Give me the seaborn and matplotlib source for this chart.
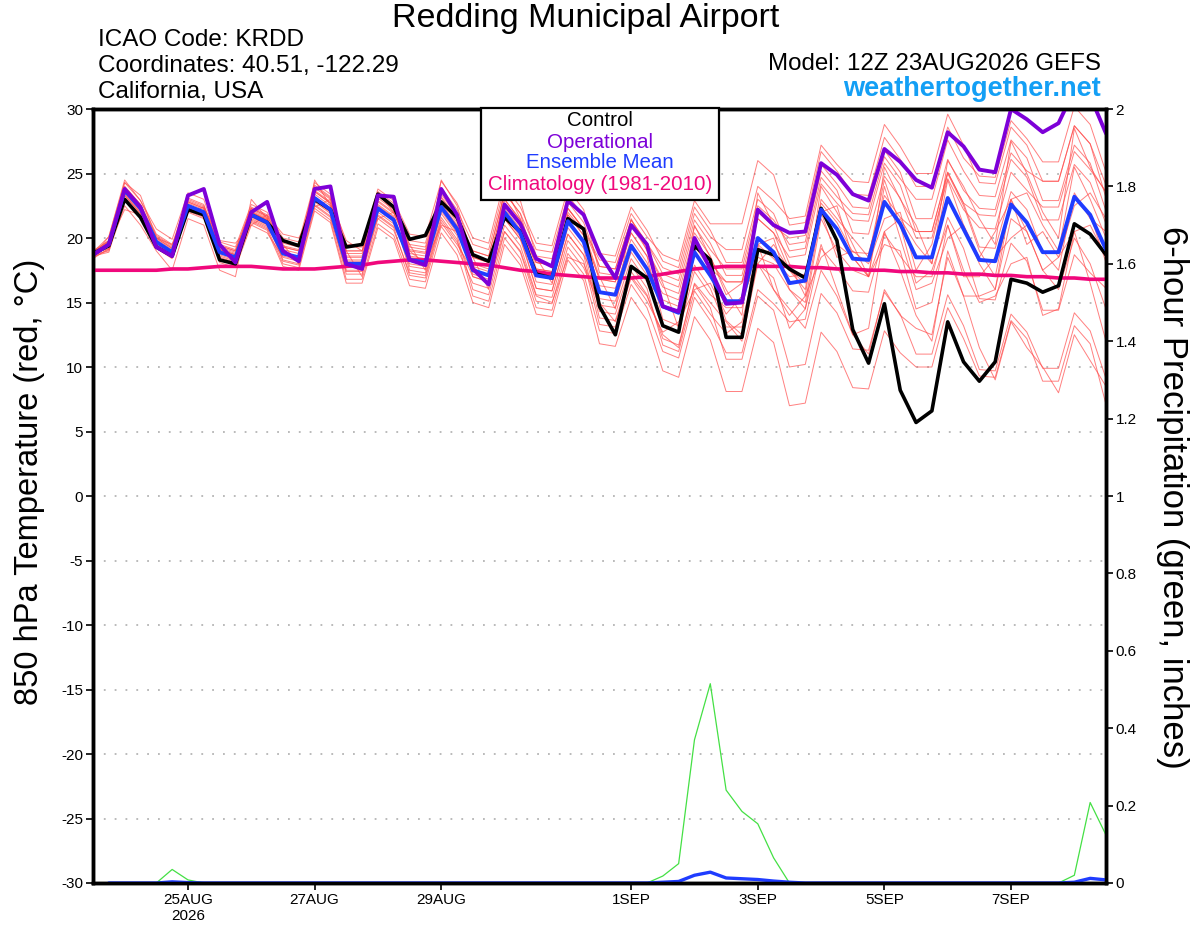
import numpy as np
import pandas as pd
import matplotlib
matplotlib.use("Agg")
import matplotlib.pyplot as plt
import seaborn as sns
from matplotlib.patches import Rectangle

sns.set_theme(style="white")
plt.rcParams['font.family'] = ['Liberation Sans', 'DejaVu Sans']
plt.rcParams['text.color'] = 'black'
plt.rcParams['axes.labelcolor'] = 'black'
plt.rcParams['xtick.color'] = 'black'
plt.rcParams['ytick.color'] = 'black'

# ---------------- data ----------------
run_start = "2026-08-23 12:00"
n_steps = 65

control = [18.8,19.4,23.0,21.6, 19.3,18.6,22.2,21.8, 18.3,18.0,21.8,21.2, 19.8,19.4,23.0,22.2,
           19.3,19.5,23.4,22.4, 19.9,20.2,22.8,21.6, 18.7,18.2,21.6,20.5, 17.2,16.9,21.5,20.7,
           14.7,12.5,17.8,16.9, 13.2,12.7,19.4,18.3, 12.3,12.3,19.1,18.7, 17.6,16.9,22.3,19.8,
           12.9,10.3,14.9,8.2, 5.7,6.6,13.5,10.4, 8.9,10.4,16.8,16.5, 15.8,16.3,21.1,20.3, 18.7]

operational = [18.7,19.5,23.8,22.4, 19.3,18.6,23.3,23.8, 19.5,18.1,22.0,22.8, 19.0,18.2,23.8,24.0,
               18.0,17.6,23.3,23.2, 18.3,17.9,23.8,21.8, 17.6,16.4,22.6,21.1, 18.4,17.8,22.9,21.8,
               18.8,16.9,21.0,19.5, 14.7,14.3,20.0,17.6, 14.9,15.0,22.2,21.0, 20.4,20.5,25.8,24.9,
               23.4,22.9,26.9,25.9, 24.5,23.9,28.2,27.1, 25.3,25.1,30.0,29.2, 28.2,28.9,31.5,31.0, 28.1]

ens_mean = [18.7,19.5,23.7,22.3, 19.7,18.9,22.5,22.0, 18.9,18.5,21.8,21.2, 18.8,18.5,23.1,22.2,
            18.0,18.0,22.3,21.4, 18.3,18.1,22.4,20.7, 17.5,17.1,22.0,20.4, 17.1,16.9,21.3,19.7,
            15.8,15.6,19.4,17.6, 14.7,14.2,18.9,17.1, 15.1,15.1,20.0,18.9, 16.5,16.7,22.2,20.7,
            18.4,18.3,22.8,21.1, 18.5,18.5,23.1,20.7, 18.3,18.2,22.6,21.2, 18.9,18.9,23.2,21.8, 19.1]

climatology = [17.5,17.5,17.5,17.5, 17.5,17.6,17.6,17.7, 17.8,17.8,17.8,17.7, 17.6,17.6,17.6,17.7,
               17.8,17.9,18.1,18.2, 18.3,18.3,18.2,18.1, 18.0,17.9,17.7,17.5, 17.4,17.2,17.1,17.0,
               16.9,16.9,16.9,17.0, 17.2,17.4,17.6,17.7, 17.8,17.8,17.8,17.8, 17.8,17.7,17.7,17.6,
               17.6,17.5,17.5,17.4, 17.4,17.3,17.3,17.2, 17.2,17.1,17.1,17.0, 17.0,16.9,16.9,16.8, 16.8]

m01 = [19.0,19.8,24.0,22.6, 20.2,19.4,23.0,22.5, 19.7,19.3,22.6,22.0, 20.0,19.7,24.3,23.4, 19.5,19.5,23.8,22.9,
       20.3,20.1,24.4,22.7, 20.0,19.6,24.5,22.9, 18.6,18.4,22.8,21.2, 17.8,17.6,21.4,19.6, 17.7,17.2,21.9,20.1,
       19.1,19.1,24.0,22.9, 21.5,21.7,27.2,25.7, 24.4,24.3,28.8,27.1, 25.0,25.0,29.6,27.2, 24.3,24.2,28.6,27.2,
       24.4,24.4,28.7,27.3, 24.1]
m02 = [18.4,19.2,23.4,22.0, 19.2,18.4,22.0,21.5, 18.3,17.9,21.2,20.6, 17.8,17.5,22.1,21.2, 16.5,16.5,20.8,19.9,
       16.3,16.1,20.4,18.7, 15.0,14.6,19.5,17.9, 14.1,13.9,18.3,16.7, 11.8,11.6,15.4,13.6, 9.7,9.2,13.9,12.1,
       8.1,8.1,13.0,11.9, 7.0,7.2,12.7,11.2, 8.4,8.3,12.8,11.1, 10.0,10.0,14.6,12.2, 9.3,9.2,13.6,12.2,
       8.9,8.9,13.2,11.8, 7.1]
m03 = [18.9,19.8,23.9,22.5, 20.0,19.2,22.8,22.3, 19.4,19.0,22.3,21.7, 19.6,19.3,23.9,23.0, 18.5,18.5,22.8,21.9,
       19.3,19.1,23.4,21.7, 19.0,18.6,23.5,21.9, 19.1,18.9,23.3,21.7, 18.8,18.6,22.4,20.6, 18.2,17.7,22.4,20.6,
       18.1,18.1,23.0,21.9, 19.0,19.2,24.7,23.2, 21.9,21.8,26.3,24.6, 23.0,23.0,27.6,25.2, 23.3,23.2,27.6,26.2,
       22.9,22.9,27.2,25.8, 22.1]
m04 = [18.5,19.5,23.7,22.1, 19.7,18.9,22.5,22.0, 19.3,18.9,22.2,21.6, 18.3,18.0,22.6,21.7, 17.2,17.2,21.5,20.6,
       17.3,17.1,21.4,19.7, 17.0,16.6,21.5,19.9, 17.6,17.4,21.8,20.2, 16.8,16.6,20.4,18.6, 13.7,13.2,17.9,16.1,
       13.1,13.1,18.0,16.9, 13.0,14.5,19.5,16.0, 12.5,13.0,20.5,17.5, 14.0,12.0,19.0,15.5, 15.5,16.0,21.5,20.5,
       17.5,16.0,20.0,18.0, 14.5]
m05 = [18.9,20.1,24.5,22.9, 20.7,19.9,23.5,23.0, 19.4,19.0,22.3,21.7, 19.4,19.1,23.7,22.8, 19.0,19.0,23.3,22.4,
       18.8,18.6,22.9,21.2, 17.0,16.6,21.5,19.9, 16.1,15.9,20.3,18.7, 13.8,13.6,17.4,15.6, 12.2,11.7,16.4,14.6,
       10.6,10.6,15.5,14.4, 10.0,10.2,15.7,14.2, 11.4,11.3,15.8,14.1, 11.0,11.0,15.6,13.2, 9.8,9.7,14.1,12.7,
       9.9,9.9,14.2,12.8, 9.1]
m06 = [18.5,19.1,23.3,21.9, 19.4,18.6,22.2,21.7, 19.1,18.7,22.0,21.4, 19.3,19.0,23.6,22.7, 18.8,18.8,23.1,22.2,
       19.8,19.6,23.9,22.2, 19.5,19.1,24.0,22.4, 19.6,19.4,23.8,22.2, 17.3,17.1,20.9,19.1, 16.7,16.2,20.9,19.1,
       17.6,17.6,22.5,21.4, 19.5,19.7,25.2,23.7, 20.4,20.3,24.8,23.1, 20.0,20.0,24.6,22.2, 20.8,20.7,25.1,23.7,
       22.4,22.4,26.7,25.3, 23.6]
m07 = [18.8,19.3,23.5,22.2, 19.5,18.7,22.3,21.8, 18.1,17.7,21.0,20.4, 18.5,18.2,22.8,21.9, 18.2,18.2,22.5,21.6,
       17.8,17.6,21.9,20.2, 16.0,15.6,20.5,18.9, 15.1,14.9,19.3,17.7, 14.8,14.6,18.4,16.6, 15.2,14.7,19.4,17.6,
       16.6,16.6,21.5,20.4, 18.5,18.7,24.2,22.7, 21.4,21.3,25.8,24.1, 20.5,20.5,25.1,22.7, 19.3,19.2,23.6,22.2,
       18.9,18.9,23.2,21.8, 18.1]
m08 = [18.7,19.7,23.9,22.5, 20.1,19.3,22.9,22.4, 19.1,18.7,22.0,21.4, 19.7,19.4,24.0,23.1, 19.3,19.3,23.6,22.7,
       19.1,18.9,23.2,21.5, 17.8,17.4,22.3,20.7, 16.6,16.4,20.8,19.2, 14.3,14.1,17.9,16.1, 11.7,11.2,15.9,14.1,
       12.6,13.5,18.5,18.0, 16.0,14.5,21.5,19.0, 17.5,17.0,19.5,19.0, 14.5,15.0,21.0,17.0, 17.0,18.5,20.0,21.0,
       19.0,17.5,23.5,21.5, 20.5]
m09 = [18.6,18.9,23.1,21.7, 19.4,18.6,22.2,21.7, 18.6,18.2,21.5,20.9, 19.1,18.8,23.4,22.5, 17.7,17.7,22.0,21.1,
       18.6,18.4,22.7,21.0, 18.5,18.1,23.0,21.4, 18.1,17.9,22.3,20.7, 18.3,18.1,21.9,20.1, 18.7,18.2,22.9,21.1,
       21.1,21.1,26.0,24.9, 21.0,21.2,26.7,25.2, 23.4,23.3,27.8,26.1, 24.0,24.0,28.6,26.2, 24.8,24.7,29.1,27.7,
       25.9,25.9,30.2,28.8, 25.1]
m10 = [18.9,19.7,23.9,22.5, 19.9,19.1,22.7,22.2, 18.5,18.1,21.4,20.8, 18.0,17.7,22.3,21.4, 16.8,16.8,21.1,20.2,
       16.8,16.6,20.9,19.2, 16.5,16.1,21.0,19.4, 15.6,15.4,19.8,18.2, 13.3,13.1,16.9,15.1, 12.7,13.5,16.0,16.5,
       14.1,15.5,18.0,19.5, 17.5,16.0,23.0,21.5, 20.0,18.5,24.5,21.0, 16.5,17.5,21.0,17.5, 15.0,15.5,18.0,18.5,
       14.0,14.5,20.5,16.5, 12.0]
m11 = [18.6,20.1,24.3,22.9, 20.3,19.5,23.1,22.6, 19.1,18.7,22.0,21.4, 18.8,18.5,23.1,22.2, 18.0,18.0,22.3,21.4,
       18.0,17.8,22.1,20.4, 18.0,17.6,22.5,20.9, 18.1,17.9,22.3,20.7, 15.8,15.6,19.4,17.6, 15.7,15.2,19.9,18.1,
       16.6,16.6,21.5,20.4, 17.5,16.5,22.0,22.5, 18.5,17.0,24.0,20.0, 16.0,16.5,20.0,21.0, 18.0,16.0,23.0,19.5,
       20.5,18.5,22.5,23.5, 21.5]
m12 = [19.0,19.1,23.3,21.9, 19.3,18.5,22.1,21.6, 18.7,18.3,21.6,21.0, 18.6,18.3,22.9,22.0, 18.6,18.6,22.9,22.0,
       19.5,19.3,23.6,21.9, 18.5,18.1,23.0,21.4, 17.1,16.9,21.3,19.7, 15.3,15.1,18.9,17.1, 13.2,12.7,17.4,15.6,
       14.6,14.6,19.5,18.4, 17.0,17.2,22.7,21.2, 18.9,18.8,23.3,21.6, 20.5,20.5,25.1,22.7, 21.8,21.7,26.1,24.7,
       21.4,21.4,25.7,24.3, 21.1]
m13 = [18.5,19.6,24.3,23.3, 20.0,19.2,22.8,22.3, 19.5,19.1,22.4,21.8, 19.8,19.5,24.1,23.2, 18.3,18.3,22.6,21.7,
       17.5,17.3,21.6,19.9, 15.5,15.1,20.0,18.4, 14.6,14.4,18.8,17.2, 12.8,12.6,16.4,14.6, 11.2,10.7,15.4,13.6,
       11.1,11.1,16.0,14.9, 13.5,13.7,19.2,17.7, 15.9,15.8,20.3,18.6, 17.0,17.0,21.6,19.2, 15.3,15.2,19.6,18.2,
       14.4,14.4,18.7,17.3, 16.1]
m14 = [18.8,19.4,23.6,22.2, 19.6,18.8,22.4,21.9, 18.4,18.0,21.3,20.7, 19.3,19.0,23.6,22.7, 19.0,19.0,23.3,22.4,
       19.0,18.8,23.1,21.4, 19.0,18.6,23.5,21.9, 17.6,17.4,21.8,20.2, 16.8,16.6,20.4,18.6, 16.2,15.7,20.4,18.6,
       15.6,16.5,19.5,20.0, 16.0,15.0,22.0,18.5, 19.0,18.0,21.5,22.0, 17.5,19.5,25.0,22.5, 19.0,17.0,23.0,20.5,
       17.5,18.5,20.5,21.0, 18.5]
m15 = [18.7,19.8,24.0,22.6, 19.7,18.9,22.5,22.0, 18.9,18.5,21.8,21.2, 18.2,17.9,22.5,21.6, 17.5,17.5,21.8,20.9,
       18.5,18.3,22.6,20.9, 17.2,16.8,21.7,20.1, 16.1,15.9,20.3,18.7, 16.3,16.1,19.9,18.1, 14.7,14.2,18.9,17.1,
       13.6,12.5,19.5,16.0, 14.0,15.5,18.5,19.5, 18.5,17.0,20.5,21.5, 19.5,18.0,24.5,21.0, 18.5,20.5,23.0,23.5,
       21.0,19.0,25.5,23.0, 20.0]
m16 = [18.6,19.3,23.5,22.1, 19.5,18.7,22.3,21.8, 19.2,18.8,22.1,21.5, 18.8,18.5,23.1,22.2, 17.4,17.4,21.7,20.8,
       17.1,16.9,21.2,19.5, 17.5,17.1,22.0,20.4, 18.1,17.9,22.3,20.7, 17.8,17.6,21.4,19.6, 17.2,16.7,21.4,19.6,
       17.1,17.1,22.0,20.9, 20.0,20.2,25.7,24.2, 22.4,22.3,26.8,25.1, 21.5,21.5,26.1,23.7, 22.3,22.2,26.6,25.2,
       24.4,24.4,28.7,27.3, 23.1]
m17 = [18.7,19.0,22.5,21.0, 19.0,17.5,21.5,21.0, 17.5,17.0,23.0,21.5, 19.5,18.0,24.5,22.5, 19.0,17.0,23.5,22.0,
       19.5,17.5,24.5,22.5, 18.5,16.0,24.0,21.5, 18.5,16.5,22.0,20.5, 17.0,14.5,21.5,19.0, 16.5,13.0,21.0,18.5,
       16.0,14.0,23.5,21.0, 18.0,15.5,24.0,22.0, 19.5,17.0,25.5,23.0, 21.0,18.0,26.0,24.0, 21.5,19.5,27.5,25.0,
       22.0,20.0,28.5,25.5, 23.5]
m18 = [18.8,19.6,22.2,21.8, 20.0,19.5,22.0,22.4, 19.8,19.6,21.0,21.8, 20.3,20.0,22.4,23.0, 19.8,19.0,21.5,22.0,
       19.0,18.0,21.0,20.5, 17.8,16.5,20.5,19.0, 15.5,15.0,18.5,18.0, 15.0,13.5,17.0,15.5, 12.5,11.5,16.5,15.0,
       13.5,12.0,18.0,16.0, 14.5,13.0,17.5,15.5, 12.5,11.0,16.0,14.0, 13.0,12.5,18.5,15.5, 11.5,9.0,13.5,11.5,
       10.0,8.0,12.5,10.5, 8.5]
members = [m01, m02, m03, m04, m05, m06, m07, m08, m09, m10,
           m11, m12, m13, m14, m15, m16, m17, m18]

nan = float("nan")
precip_max = [nan, 0, 0, 0, 0, 0.035, 0.008, 0, 0, 0,
              0, 0, 0, 0, 0, 0, 0, 0, 0, 0,
              0, 0, 0, 0, 0, 0, 0, 0, 0, 0,
              0, 0, 0, 0, 0, 0, 0.018, 0.05, 0.37, 0.515,
              0.24, 0.185, 0.153, 0.065, 0, 0, 0, 0, 0, 0,
              0, 0, 0, 0, 0, 0, 0, 0, 0, 0,
              0, 0, 0.02, 0.208, 0.124]
precip_mean = [nan, 0, 0, 0, 0, 0.003, 0.001, 0, 0, 0,
               0, 0, 0, 0, 0, 0, 0, 0, 0, 0,
               0, 0, 0, 0, 0, 0, 0, 0, 0, 0,
               0, 0, 0, 0, 0, 0, 0.002, 0.004, 0.02, 0.028,
               0.013, 0.011, 0.009, 0.005, 0.002, 0, 0, 0, 0, 0,
               0, 0, 0, 0, 0, 0, 0, 0, 0, 0,
               0, 0, 0.002, 0.012, 0.008]

tick_dates = ["2026-08-25", "2026-08-27", "2026-08-29", "2026-09-01",
              "2026-09-03", "2026-09-05", "2026-09-07"]
tick_labels = ["25AUG\n2026", "27AUG", "29AUG", "1SEP", "3SEP", "5SEP", "7SEP"]
temp_ticks = [-30, -25, -20, -15, -10, -5, 0, 5, 10, 15, 20, 25, 30]
precip_ticks = [0, 0.2, 0.4, 0.6, 0.8, 1.0, 1.2, 1.4, 1.6, 1.8, 2.0]
precip_tick_labels = ["0", "0.2", "0.4", "0.6", "0.8", "1", "1.2", "1.4", "1.6", "1.8", "2"]

legend_items = ["Control", "Operational", "Ensemble Mean", "Climatology (1981-2010)"]

# ---------------- colours ----------------
C_CTRL = "#000000"
C_OPER = "#7d00d8"
C_MEAN = "#1f3cff"
C_CLIM = "#f0087c"
C_MEMB = "#ff4a4a"
C_PMAX = "#44e044"
C_SITE = "#139ff5"

times = pd.date_range(run_start, periods=n_steps, freq="6h")

W, H = 1200, 927
fig = plt.figure(figsize=(W / 100, H / 100), dpi=100)
fig.patch.set_facecolor("white")
ax = fig.add_axes([93 / W, 1 - 883 / H, (1106 - 93) / W, (883 - 109) / H])
ax.set_facecolor("white")

# ensemble members
rows = []
for k, m in enumerate(members):
    for t, v in zip(times, m):
        rows.append((k, t, v))
df_m = pd.DataFrame(rows, columns=["member", "time", "temp"])
sns.lineplot(data=df_m, x="time", y="temp", units="member", estimator=None,
             color=C_MEMB, lw=0.7, alpha=0.7, ax=ax, zorder=2)

sns.lineplot(x=times, y=climatology, color=C_CLIM, lw=2.6, ax=ax, zorder=3)
sns.lineplot(x=times, y=control, color=C_CTRL, lw=2.6, ax=ax, zorder=4)
sns.lineplot(x=times, y=ens_mean, color=C_MEAN, lw=2.8, ax=ax, zorder=5)
sns.lineplot(x=times, y=operational, color=C_OPER, lw=2.8, ax=ax, zorder=6)

ax.set_xlim(times[0], times[-1])
ax.set_ylim(-30, 30)
ax.set_yticks(temp_ticks)
ax.set_yticklabels([str(v) for v in temp_ticks])
ax.set_xticks(pd.to_datetime(tick_dates))
ax.set_xticklabels(tick_labels)
ax.set_xlabel("")
ax.set_ylabel("")
ax.grid(axis="y", color="#b4b4b4", linestyle=(0, (1, 5)), linewidth=1.3)
ax.grid(axis="x", visible=False)
ax.set_axisbelow(True)
ax.tick_params(axis="both", direction="out", length=5, width=1.2, labelsize=11,
               colors="black", pad=2)
ax.tick_params(axis="y", left=True)
ax.tick_params(axis="x", bottom=True)
for s in ax.spines.values():
    s.set_linewidth(2.5)
    s.set_color("black")

# precipitation on right axis
ax2 = ax.twinx()
sns.lineplot(x=times, y=precip_max, color=C_PMAX, lw=0.9, ax=ax2, zorder=3)
sns.lineplot(x=times, y=precip_mean, color=C_MEAN, lw=2.4, ax=ax2, zorder=4)
ax2.set_ylim(0, 2)
ax2.set_yticks(precip_ticks)
ax2.set_yticklabels(precip_tick_labels)
ax2.set_ylabel("")
ax2.set_xlim(times[0], times[-1])
ax2.grid(False)
ax2.tick_params(axis="y", direction="out", length=5, width=1.2, labelsize=11,
                colors="black", right=True, pad=2)
for s in ax2.spines.values():
    s.set_linewidth(2.5)
    s.set_color("black")
    s.set_zorder(10)

# axis titles
fig.text(30 / W, 1 - 482 / H, "850 hPa Temperature (red, °C)", rotation=90,
         ha="center", va="center", fontsize=23.5)
fig.text(1173 / W, 1 - 497 / H, "6-hour Precipitation (green, inches)", rotation=270,
         ha="center", va="center", fontsize=25)

# header texts
fig.text(586 / W, 1 - 18 / H, "Redding Municipal Airport", ha="center", va="center", fontsize=24.5)
fig.text(98 / W, 1 - 40 / H, "ICAO Code: KRDD", ha="left", va="center", fontsize=17.5)
fig.text(98 / W, 1 - 66 / H, "Coordinates: 40.51, -122.29", ha="left", va="center", fontsize=17.5)
fig.text(98 / W, 1 - 92 / H, "California, USA", ha="left", va="center", fontsize=17.5)
fig.text(1101 / W, 1 - 64 / H, "Model: 12Z 23AUG2026 GEFS", ha="right", va="center", fontsize=17.4)
fig.text(1101 / W, 1 - 89 / H, "weathertogether.net", ha="right", va="center", fontsize=19.5,
         fontweight="bold", color=C_SITE)

# legend box
fig.add_artist(Rectangle((481 / W, 1 - 200 / H), 238 / W, 92 / H, transform=fig.transFigure,
                         facecolor="white", edgecolor="black", lw=1.6, zorder=10))
legend_colors = [C_CTRL, C_OPER, C_MEAN, C_CLIM]
legend_y = [121, 142, 163, 185]
for txt, col, yy in zip(legend_items, legend_colors, legend_y):
    fig.text(600 / W, 1 - yy / H, txt, ha="center", va="center", fontsize=14.8,
             color=col, zorder=11)

fig.savefig("out.png", dpi=100, facecolor="white")
